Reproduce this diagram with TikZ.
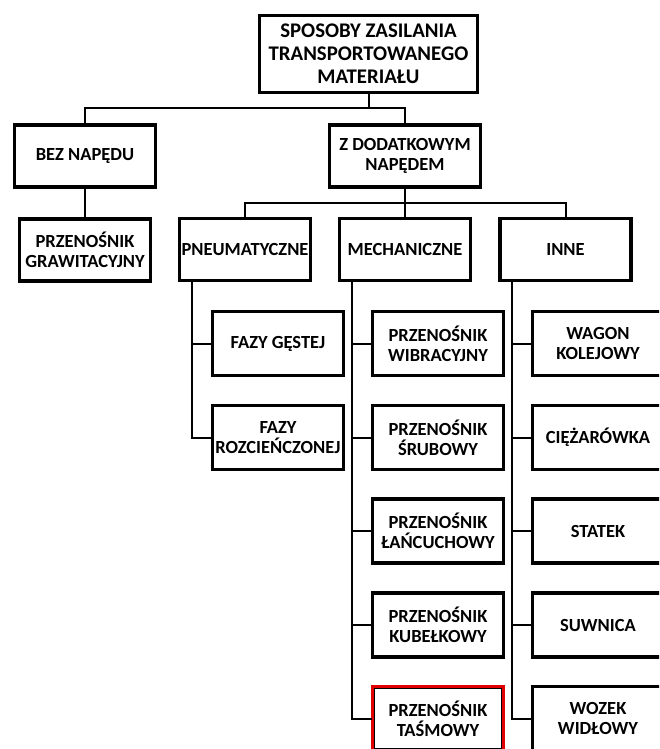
\documentclass[tikz,border=0pt]{standalone}
\usepackage{fontspec}
\setmainfont{Carlito}
\usepackage{tikz}
\usetikzlibrary{calc,positioning}
\definecolor{treeaccent}{HTML}{E00000}

\begin{document}
\begin{tikzpicture}[
  x=1pt,y=-1pt,
  treebox/.style={draw=black,line width=3.3pt,fill=white,inner sep=0pt,
    outer sep=0pt,minimum width=131pt,minimum height=64pt,align=center,
    font=\bfseries\fontsize{18.5}{20}\selectfont},
  treehead/.style={treebox,line width=3.8pt,minimum width=218pt,
    minimum height=77pt,font=\bfseries\fontsize{20.8}{23}\selectfont},
  treemid/.style={treebox,minimum height=62pt},
  treelink/.style={line width=2pt,line cap=rect}
]
  \useasboundingbox (0,0) rectangle (659,749);
  \fill[white] (0,0) rectangle (659,749);
  \clip (0,0) rectangle (659,749);

  % first two levels
  \node[treehead] (root) at (368.5,54)
    {SPOSOBY ZASILANIA\\TRANSPORTOWANEGO\\MATERIAŁU};
  \node[treemid,minimum width=141pt] (nodrive) at (85,156) {BEZ NAPĘDU};
  \node[treemid,minimum width=151pt] (drive) at (405,156)
    {Z DODATKOWYM\\NAPĘDEM};
  \node[treemid] (gravity) at (85,250) {PRZENOŚNIK\\GRAWITACYJNY};
  \draw[treelink] (root.south) -- ++(0,16) -| (nodrive.north);
  \draw[treelink] (root.south) -- ++(0,16) -| (drive.north);
  \draw[treelink] (nodrive) -- (gravity);

  % third level
  \node[treemid] (pneum) at (245,249.5) {PNEUMATYCZNE};
  \node[treemid] (mech) at (405,249.5) {MECHANICZNE};
  \node[treemid] (other) at (565.5,249.5) {INNE};
  \draw[treelink] (drive.south) -- ++(0,15.5) -| (pneum.north);
  \draw[treelink] (drive.south) -- ++(0,15.5) -| (mech.north);
  \draw[treelink] (drive.south) -- ++(0,15.5) -| (other.north);

  % pneumatic branch
  \node[treebox] (dense) at (278,343.5) {FAZY GĘSTEJ};
  \node[treebox] (dilute) at (278,437.5) {FAZY\\ROZCIEŃCZONEJ};
  \coordinate (pneumspine) at ($(pneum.south west)+(12.5,0)$);
  \draw[treelink] (pneumspine) |- (dense.west);
  \draw[treelink] (pneumspine) |- (dilute.west);

  % mechanical branch
  \node[treebox] (vibro) at (438,343.5) {PRZENOŚNIK\\WIBRACYJNY};
  \node[treebox] (screw) at (438,437.5) {PRZENOŚNIK\\ŚRUBOWY};
  \node[treebox] (chain) at (438,531) {PRZENOŚNIK\\ŁAŃCUCHOWY};
  \node[treebox] (bucket) at (438,625) {PRZENOŚNIK\\KUBEŁKOWY};
  \node[treebox,draw=none] (belt) at (438,718.5)
    {PRZENOŚNIK\\TAŚMOWY};
  \draw[treeaccent,line width=3.3pt] (belt.north west)
    rectangle (belt.south east);
  \draw[line width=1pt] ([shift={(2.1,2.1)}]belt.north west)
    rectangle ([shift={(-2.1,-2.1)}]belt.south east);
  \coordinate (mechspine) at ($(mech.south west)+(12.5,0)$);
  \draw[treelink] (mechspine) |- (vibro.west);
  \draw[treelink] (mechspine) |- (screw.west);
  \draw[treelink] (mechspine) |- (chain.west);
  \draw[treelink] (mechspine) |- (bucket.west);
  \draw[treelink] (mechspine) |- ($(belt.west)+(-1.6,0)$);

  % other means
  \node[treebox] (wagon) at (598,343.5) {WAGON\\KOLEJOWY};
  \node[treebox] (truck) at (598,437.5) {CIĘŻARÓWKA};
  \node[treebox] (ship) at (598,531) {STATEK};
  \node[treebox] (crane) at (598,625) {SUWNICA};
  \node[treebox] (forklift) at (598,718.5) {WOZEK\\WIDŁOWY};
  \coordinate (otherspine) at ($(other.south west)+(12,0)$);
  \draw[treelink] (otherspine) |- (wagon.west);
  \draw[treelink] (otherspine) |- (truck.west);
  \draw[treelink] (otherspine) |- (ship.west);
  \draw[treelink] (otherspine) |- (crane.west);
  \draw[treelink] (otherspine) |- (forklift.west);
\end{tikzpicture}
\end{document}
